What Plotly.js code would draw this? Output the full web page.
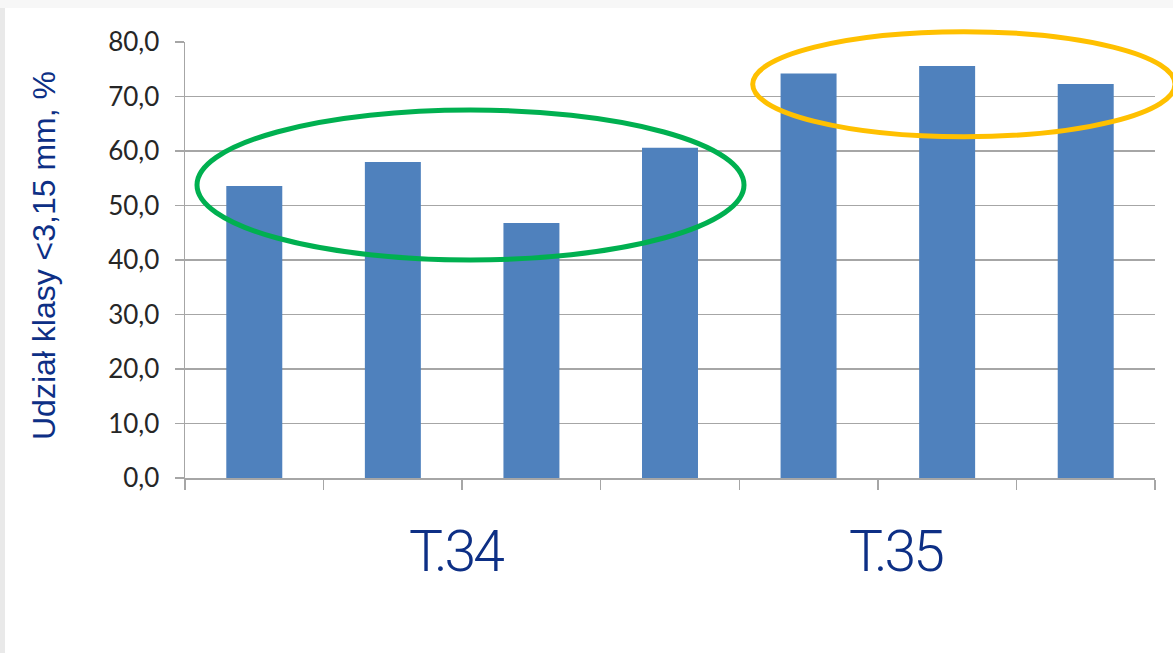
<!DOCTYPE html>
<html>
<head>
<meta charset="utf-8">
<script src="https://cdn.plot.ly/plotly-3.0.1.min.js"></script>
<style>
  html, body { margin: 0; padding: 0; width: 1173px; height: 653px; overflow: hidden; background: #ffffff; }
  #topband { position: absolute; left: 0; top: 0; width: 1173px; height: 8px; background: #f7f7f7; }
  #leftband { position: absolute; left: 0; top: 8px; width: 5px; height: 645px; background: #e9e9e9; }
  #chart { position: absolute; left: 5px; top: 8px; width: 1168px; height: 645px; }
  /* tighter tracking for the two large group labels */
  #chart .annotation[data-index="1"] text,
  #chart .annotation[data-index="2"] text { letter-spacing: -3px; }
</style>
</head>
<body>
<div id="topband"></div>
<div id="leftband"></div>
<div id="chart"></div>
<script>
// Share of the < 3.15 mm size class per sample, two series of tests
const samples = ['T.34-1', 'T.34-2', 'T.34-3', 'T.34-4', 'T.35-1', 'T.35-2', 'T.35-3'];
const shareValues = [53.6, 58.0, 46.8, 60.6, 74.2, 75.6, 72.3];
const groupLabels = ['T.34', 'T.35'];
const groupLabelPos = [1.45, 4.63];
const yTickValues = [0, 10, 20, 30, 40, 50, 60, 70, 80];

const navy = '#0d2f85';
const gridGray = '#a6a6a6';

// plot area in page pixels, used to place the highlight rings
const plotLeft = 185, plotWidth = 970, plotTop = 42, plotHeight = 436;
const px = v => (v - plotLeft) / plotWidth;
const py = v => 1 - (v - plotTop) / plotHeight;

const trace = {
  type: 'bar',
  x: samples,
  y: shareValues,
  marker: { color: '#4f81bd' },
  hoverinfo: 'x+y'
};

const layout = {
  width: 1168,
  height: 645,
  margin: { l: 180, r: 18, t: 34, b: 175 },
  paper_bgcolor: '#ffffff',
  plot_bgcolor: '#ffffff',
  separators: ', ',
  showlegend: false,
  bargap: 0.596,
  font: { family: 'Lato, "Open Sans", sans-serif', color: '#262626' },
  xaxis: {
    type: 'category',
    showticklabels: false,
    tickson: 'boundaries',
    ticks: 'outside',
    ticklen: 10,
    tickwidth: 1.5,
    tickcolor: gridGray,
    showline: true,
    linecolor: gridGray,
    linewidth: 1.5,
    showgrid: false,
    zeroline: false
  },
  yaxis: {
    range: [0, 80],
    tickvals: yTickValues,
    tickformat: '.1f',
    ticks: 'outside',
    ticklen: 9,
    tickwidth: 1.5,
    tickcolor: gridGray,
    ticklabelstandoff: 10,
    tickfont: { size: 26, color: '#262626', family: 'Lato, "Open Sans", sans-serif' },
    showline: true,
    linecolor: gridGray,
    linewidth: 1.5,
    showgrid: true,
    gridcolor: gridGray,
    gridwidth: 1.5,
    zeroline: false
  },
  annotations: [
    {
      text: 'Udział klasy <3,15 mm, %',
      xref: 'paper', yref: 'paper',
      x: px(44), y: py(256),
      xanchor: 'center', yanchor: 'middle',
      textangle: -90,
      showarrow: false,
      font: { family: '"Liberation Sans", Arial, sans-serif', size: 32, color: navy }
    }
  ].concat(groupLabels.map((g, i) => ({
    text: g,
    xref: 'x', yref: 'paper',
    x: groupLabelPos[i], y: py(551),
    xanchor: 'center', yanchor: 'middle',
    showarrow: false,
    font: { family: 'Roboto, "Liberation Sans", sans-serif', size: 57, weight: 300, color: navy }
  }))),
  shapes: [
    {
      type: 'circle', xref: 'paper', yref: 'paper',
      x0: px(197), x1: px(744), y0: py(260), y1: py(110),
      line: { color: '#00b050', width: 5 }
    },
    {
      type: 'circle', xref: 'paper', yref: 'paper',
      x0: px(752.7), x1: px(1175), y0: py(136.7), y1: py(31.7),
      line: { color: '#ffc000', width: 5 }
    }
  ]
};

Plotly.newPlot('chart', [trace], layout, { displayModeBar: false, staticPlot: true });
</script>
</body>
</html>
